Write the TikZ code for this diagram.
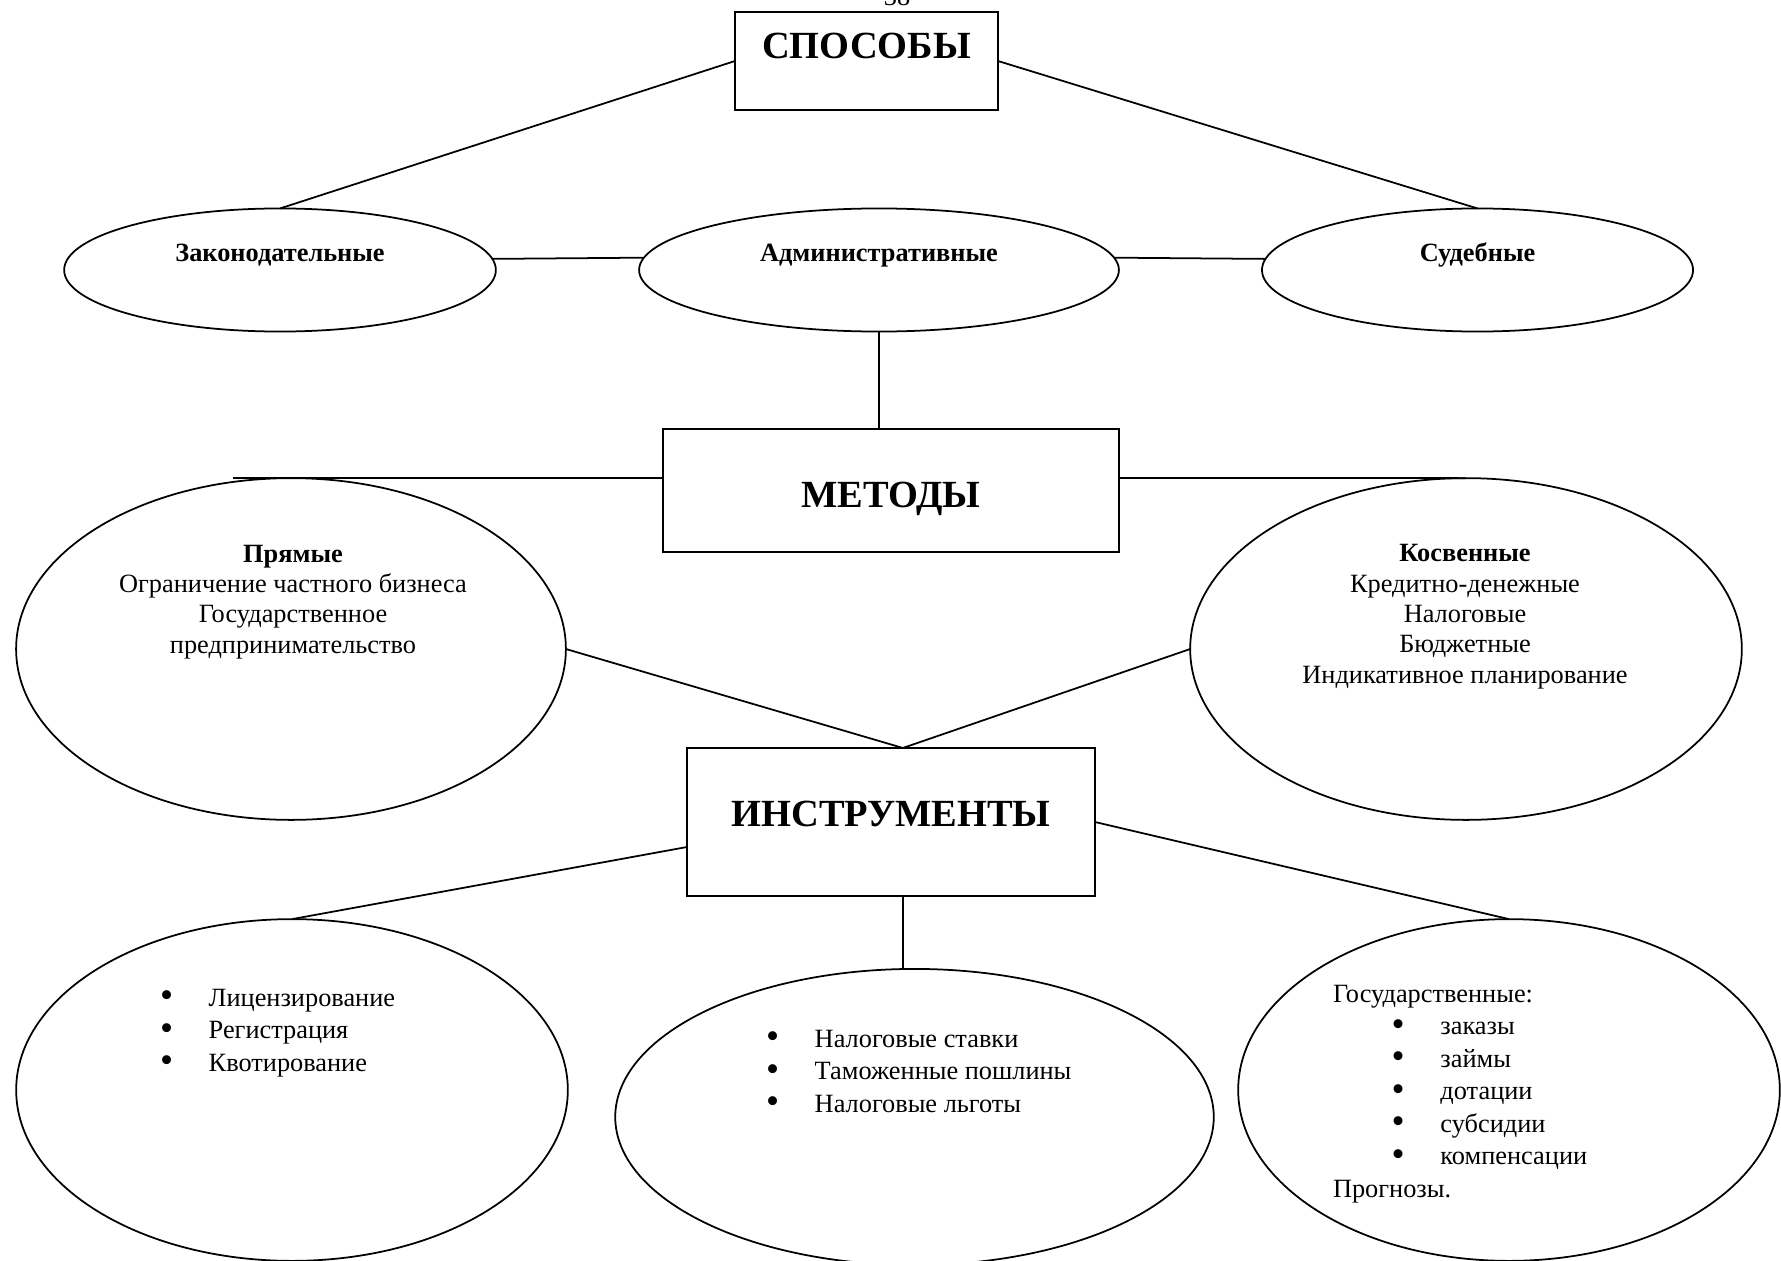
\documentclass[tikz,border=0pt]{standalone}
\usepackage{fontspec}
\setmainfont{Liberation Serif}
\usetikzlibrary{shapes.geometric}
\newcommand{\itm}[1]{\makebox[0.78cm][l]{\smash{\raisebox{-0.8pt}{\fontsize{17}{17}\selectfont\textbullet}}}#1}

\begin{document}
\begin{tikzpicture}[x=0.016cm, y=-0.016cm, line width=0.8pt,
	every node/.style={inner sep=0pt, outer sep=0pt},
	oval/.style={ellipse, draw},
	head/.style={rectangle, draw, font=\bfseries\fontsize{17.5}{20}\selectfont, text height=0.42cm},
	txt/.style={font=\fontsize{12}{13.8}\selectfont, align=center, anchor=base},
	list/.style={font=\fontsize{12}{14.8}\selectfont, align=left, anchor=base west}]
\useasboundingbox (0,0) rectangle (1781,1261);

\node[font=\fontsize{12}{14}\selectfont, anchor=base] (page) at (897,6) {38};

\node[head, minimum width=4.21cm, minimum height=1.57cm, text depth=0.51cm] (spos) at (866.5,61) {СПОСОБЫ};
\node[head, minimum width=7.30cm, minimum height=1.97cm, text height=0.53cm, text depth=0cm] (met) at (891,490.5) {МЕТОДЫ};
\node[head, minimum width=6.53cm, minimum height=2.37cm, text depth=0.29cm] (instr) at (891,822) {ИНСТРУМЕНТЫ};

\foreach \n/\x/\y/\w/\h in {
	zak/280/270/6.91/1.97,adm/879/270/7.68/1.97,sud/1477.5/270/6.90/1.97%
	,pryam/291/649/8.80/5.47,kosv/1466/649/8.83/5.47%
	,lic/292/1090/8.83/5.47,nal/914.5/1117/9.58/4.74,gos/1509/1090/8.67/5.47%
}{
	\node[oval, minimum width=\w cm, minimum height=\h cm] (\n) at (\x,\y) {};
}

\foreach \n/\t in {zak/Законодательные,adm/Административные,sud/Судебные}{
	\node[txt, font=\bfseries\fontsize{12}{13.8}\selectfont] (\n-lbl) at ([yshift=0.144cm]\n.center) {\t};
}

\node[txt] (pryam-lbl) at (293,653) {\textbf{Прямые}\\Ограничение частного бизнеса\\Государственное\\предпринимательство};
\node[txt] (kosv-lbl) at (1465,683) {\textbf{Косвенные}\\Кредитно-денежные\\Налоговые\\Бюджетные\\Индикативное планирование};

\node[list] (lic-lbl) at (160,1071) {\itm{Лицензирование}\\\itm{Регистрация}\\\itm{Квотирование}};
\node[list] (nal-lbl) at (766,1112) {\itm{Налоговые ставки}\\\itm{Таможенные пошлины}\\\itm{Налоговые льготы}};
\node[list] (gos-lbl) at (1333,1197) {Государственные:\\
	\hspace{0.94cm}\itm{заказы}\\\hspace{0.94cm}\itm{займы}\\\hspace{0.94cm}\itm{дотации}\\
	\hspace{0.94cm}\itm{субсидии}\\\hspace{0.94cm}\itm{компенсации}\\Прогнозы.};

\foreach \u/\v in {
	spos.west/zak.north,spos.east/sud.north%
	,zak.3/adm.177,adm.3/sud.177%
	,instr.east/gos.north%
}{
	\draw (\u) -- (\v);
}

\coordinate (pryamEnd) at (233,478);
\draw (adm.south) -- (adm.south |- met.north);
\draw (met.west |- pryamEnd) -- (pryamEnd);
\draw (met.east |- pryamEnd) -- (kosv.north);
\draw (pryam.east) -- ([xshift=0.19cm]instr.north) -- (kosv.west);
\draw ([yshift=-0.4cm]instr.west) -- (lic.north);
\draw ([xshift=0.19cm]instr.south) -- ([xshift=0.19cm]instr.south |- nal.north);
\end{tikzpicture}
\end{document}
